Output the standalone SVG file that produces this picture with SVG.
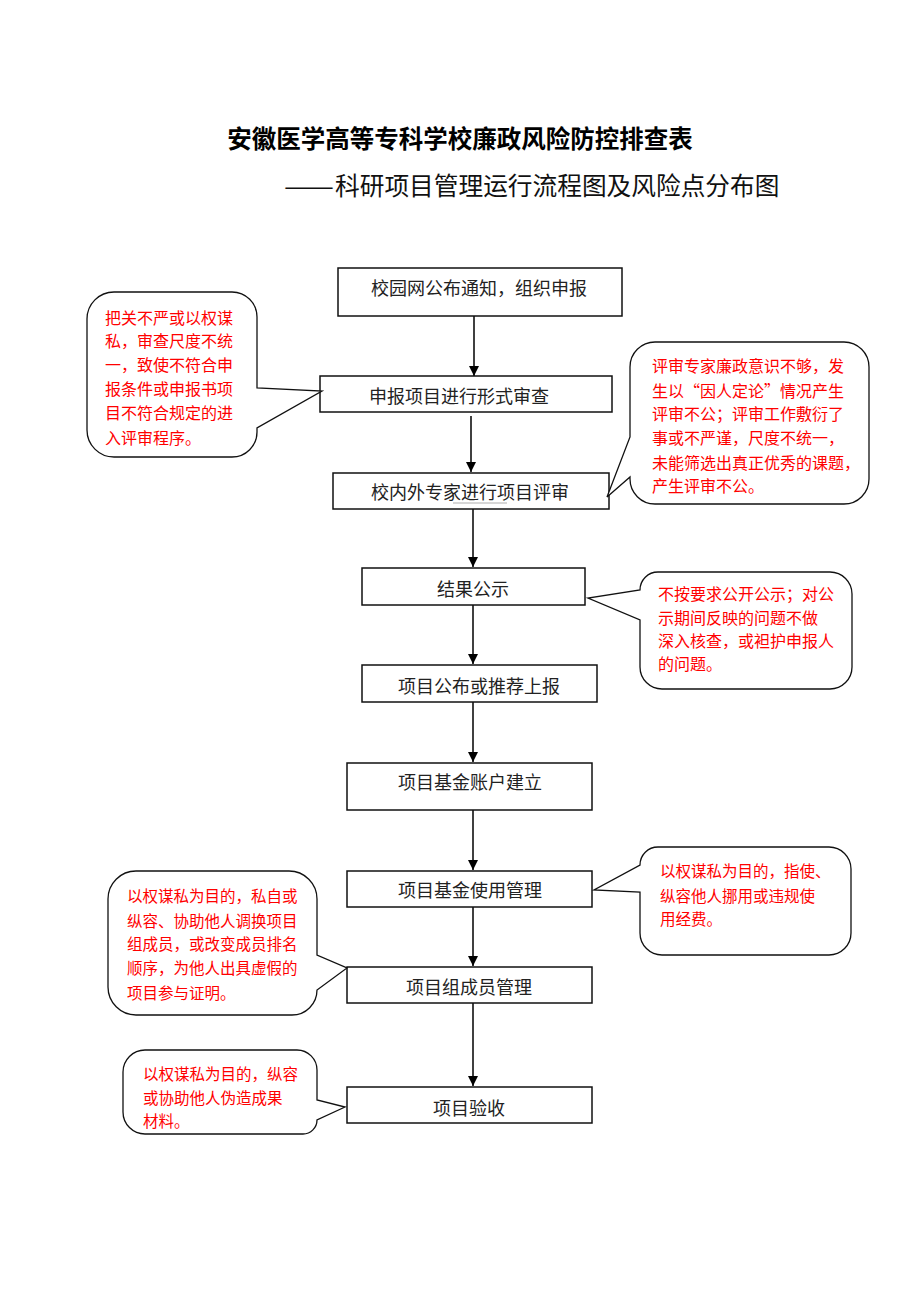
<svg xmlns="http://www.w3.org/2000/svg" width="920" height="1302" viewBox="0 0 920 1302">
<style>
.bg{fill:#fff}
.box{fill:#fff;stroke:#111;stroke-width:1.5}
.bt{font-family:"Noto Sans CJK SC","Noto Sans",sans-serif;font-size:18px;fill:#222;text-anchor:middle;dominant-baseline:central}
.call{fill:#fff;stroke:#111;stroke-width:1.3;stroke-linejoin:miter}
.rt{font-family:"Noto Sans CJK SC","Noto Sans",sans-serif;font-size:16px;fill:#ff0000;dominant-baseline:central}
.rs{font-size:15.5px}
.arr{stroke:#000;stroke-width:1.5;fill:none;marker-end:url(#ah)}
.title{font-family:"Noto Sans CJK SC","Noto Sans",sans-serif;font-size:24.5px;font-weight:bold;fill:#000;text-anchor:middle;dominant-baseline:central}
.sub{font-family:"Noto Sans CJK SC","Noto Sans",sans-serif;font-size:24.7px;fill:#111;dominant-baseline:central}
</style>
<defs>
<marker id="ah" markerUnits="userSpaceOnUse" markerWidth="10" markerHeight="12" refX="10" refY="5" orient="auto">
<path d="M0,0 L10,5 L0,10 Z" fill="#000"/>
</marker>
</defs>
<rect class="bg" x="0" y="0" width="920" height="1302"/>
<g id="titles">
<text class="title" x="460" y="137">安徽医学高等专科学校廉政风险防控排查表</text>
<text class="sub" x="284" y="184" textLength="50" lengthAdjust="spacingAndGlyphs">——</text>
<text class="sub" x="335" y="184">科研项目管理运行流程图及风险点分布图</text>
</g>
<g id="connectors">
<line class="arr" x1="474" y1="316" x2="474" y2="376"/>
<line class="arr" x1="471" y1="416" x2="471" y2="472"/>
<line class="arr" x1="473" y1="509" x2="473" y2="567"/>
<line class="arr" x1="473" y1="605" x2="473" y2="664"/>
<line class="arr" x1="473" y1="702" x2="473" y2="762"/>
<line class="arr" x1="473" y1="810" x2="473" y2="870"/>
<line class="arr" x1="473" y1="907" x2="473" y2="966"/>
<line class="arr" x1="473" y1="1003" x2="473" y2="1086"/>
</g>
<g id="n1"><rect class="box" x="338" y="268" width="284" height="48"/><text class="bt" x="479" y="287">校园网公布通知，组织申报</text></g>
<g id="n2"><rect class="box" x="320" y="376" width="292" height="36"/><text class="bt" x="459" y="395">申报项目进行形式审查</text></g>
<g id="n3"><rect class="box" x="333" y="473" width="276" height="36"/><text class="bt" x="470" y="491">校内外专家进行项目评审</text><line x1="453" y1="503" x2="507" y2="503" stroke="#999" stroke-width="0.8"/></g>
<g id="n4"><rect class="box" x="362" y="568" width="223" height="37"/><text class="bt" x="473" y="588">结果公示</text></g>
<g id="n5"><rect class="box" x="362" y="665" width="235" height="37"/><text class="bt" x="479" y="685">项目公布或推荐上报</text></g>
<g id="n6"><rect class="box" x="347" y="763" width="245" height="47"/><text class="bt" x="470" y="781">项目基金账户建立</text></g>
<g id="n7"><rect class="box" x="347" y="871" width="245" height="36"/><text class="bt" x="470" y="889">项目基金使用管理</text></g>
<g id="n8"><rect class="box" x="347" y="967" width="245" height="36"/><text class="bt" x="469" y="986">项目组成员管理</text></g>
<g id="n9"><rect class="box" x="347" y="1087" width="245" height="36"/><text class="bt" x="469" y="1107">项目验收</text></g>
<g id="c1">
<path class="call" d="M 114 292 H 232 A 25 25 0 0 1 257 317 V 388 L 322 391 L 257 428 V 432 A 25 25 0 0 1 232 457 H 114 A 27 27 0 0 1 87 430 V 319 A 27 27 0 0 1 114 292 Z"/>
<text class="rt" x="105" y="317">把关不严或以权谋</text>
<text class="rt" x="105" y="340">私，审查尺度不统</text>
<text class="rt" x="105" y="364">一，致使不符合申</text>
<text class="rt" x="105" y="388">报条件或申报书项</text>
<text class="rt" x="105" y="412">目不符合规定的进</text>
<text class="rt" x="105" y="437">入评审程序。</text>
</g>
<g id="c2">
<path class="call" d="M 655 342 H 844 A 25 25 0 0 1 869 367 V 479 A 25 25 0 0 1 844 504 H 655 A 25 25 0 0 1 630 479 V 477 L 607 497 L 630 437 V 367 A 25 25 0 0 1 655 342 Z"/>
<text class="rt" x="652" y="365">评审专家廉政意识不够，发</text>
<text class="rt" x="652" y="390">生以“因人定论”情况产生</text>
<text class="rt" x="652" y="413">评审不公；评审工作敷衍了</text>
<text class="rt" x="652" y="437">事或不严谨，尺度不统一，</text>
<text class="rt" x="652" y="462">未能筛选出真正优秀的课题，</text>
<text class="rt" x="652" y="485">产生评审不公。</text>
</g>
<g id="c3">
<path class="call" d="M 658 572 H 830 A 22 22 0 0 1 852 594 V 667 A 22 22 0 0 1 830 689 H 662 A 22 22 0 0 1 640 667 V 620 L 588 598 L 640 590 A 18 18 0 0 1 658 572 Z"/>
<text class="rt" x="658" y="593">不按要求公开公示；对公</text>
<text class="rt" x="658" y="617">示期间反映的问题不做</text>
<text class="rt" x="658" y="640">深入核查，或袒护申报人</text>
<text class="rt" x="658" y="663">的问题。</text>
</g>
<g id="c4">
<path class="call" d="M 658 847 H 829 A 22 22 0 0 1 851 869 V 933 A 22 22 0 0 1 829 955 H 662 A 22 22 0 0 1 640 933 V 892 L 594 890 L 640 865 A 18 18 0 0 1 658 847 Z"/>
<text class="rt rs" x="660" y="870">以权谋私为目的，指使、</text>
<text class="rt rs" x="660" y="895">纵容他人挪用或违规使</text>
<text class="rt rs" x="660" y="918">用经费。</text>
</g>
<g id="c5">
<path class="call" d="M 136 871 H 289 A 28 28 0 0 1 317 899 V 955 L 347 968 L 317 990 A 25 25 0 0 1 292 1015 H 136 A 28 28 0 0 1 108 987 V 899 A 28 28 0 0 1 136 871 Z"/>
<text class="rt rs" x="127" y="895">以权谋私为目的，私自或</text>
<text class="rt rs" x="127" y="920">纵容、协助他人调换项目</text>
<text class="rt rs" x="127" y="943">组成员，或改变成员排名</text>
<text class="rt rs" x="127" y="967">顺序，为他人出具虚假的</text>
<text class="rt rs" x="127" y="992">项目参与证明。</text>
</g>
<g id="c6">
<path class="call" d="M 145 1050 H 297 A 20 20 0 0 1 317 1070 V 1100 L 345 1107 L 317 1120 A 14 14 0 0 1 303 1134 H 145 A 22 22 0 0 1 123 1112 V 1072 A 22 22 0 0 1 145 1050 Z"/>
<text class="rt rs" x="143" y="1073">以权谋私为目的，纵容</text>
<text class="rt rs" x="143" y="1097">或协助他人伪造成果</text>
<text class="rt rs" x="143" y="1120">材料。</text>
</g>
</svg>
